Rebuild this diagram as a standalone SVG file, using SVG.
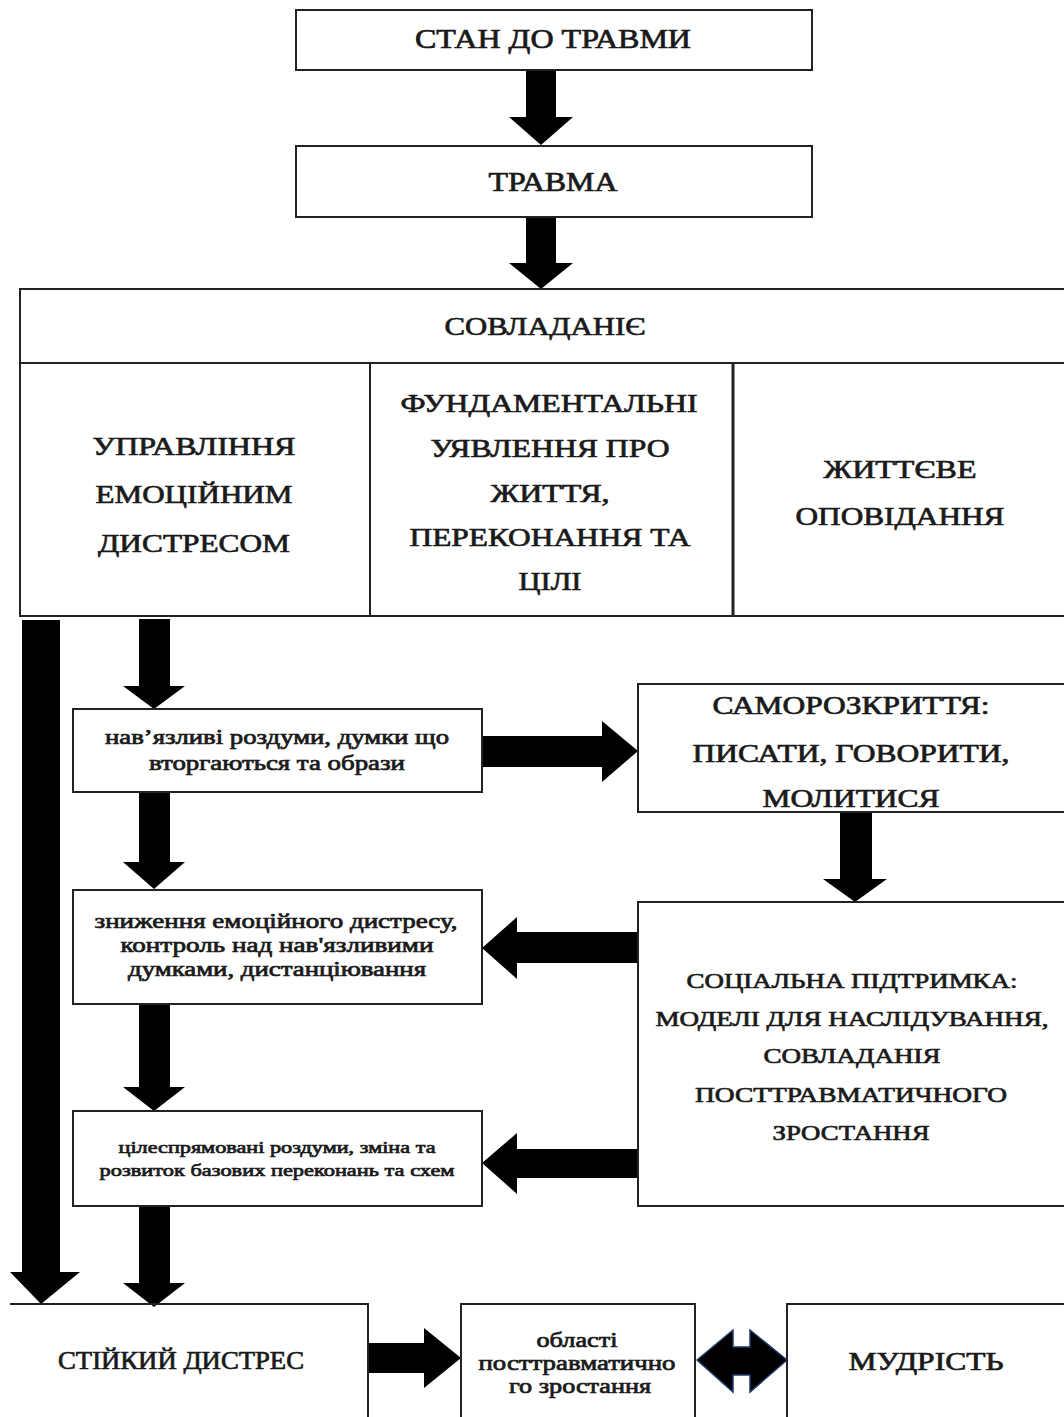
<svg xmlns="http://www.w3.org/2000/svg" width="1064" height="1417" viewBox="0 0 1064 1417">
<style>
.b{fill:#fff;stroke:#222;stroke-width:2}
.l{fill:none;stroke:#222;stroke-width:2}
.a{fill:#000}
.d{fill:#000;stroke:#1f3a6e;stroke-width:1.5}
text{font-family:"Liberation Serif","Times New Roman",serif;font-weight:normal;fill:#1a1a1a;stroke:#1a1a1a;stroke-width:0.7;text-anchor:middle}
.t26{font-size:27px}
.t25{font-size:26px}
.t24{font-size:25px}
.t21{font-size:22px}
.t19{font-size:20px}
.t16{font-size:17px}
</style>
<rect width="1064" height="1417" fill="#fff"/>
<g id="connectors">
<polygon class="a" points="526,68 556,68 556,117 573,117 541,145 509,117 526,117"/>
<polygon class="a" points="526,216 556,216 556,263 573,263 541,289 509,263 526,263"/>
<polygon class="a" points="22,620 60,620 60,1272 80,1272 41,1304 10,1272 22,1272"/>
<polygon class="a" points="139,619 170,619 170,686 185,686 154,709 123,686 139,686"/>
<polygon class="a" points="139,792 170,792 170,862 185,862 154,889 123,862 139,862"/>
<polygon class="a" points="139,1004 170,1004 170,1087 185,1087 154,1111 123,1087 139,1087"/>
<polygon class="a" points="139,1206 170,1206 170,1283 185,1283 154,1307 123,1283 139,1283"/>
<polygon class="a" points="483,736 602,736 602,721 638,751 602,782 602,767 483,767"/>
<polygon class="a" points="840,813 872,813 872,879 887,879 855,902 823,879 840,879"/>
<polygon class="a" points="638,932 517,932 517,917 482,948 517,979 517,963 638,963"/>
<polygon class="a" points="638,1149 517,1149 517,1133 482,1163 517,1194 517,1178 638,1178"/>
<polygon class="a" points="369,1343 424,1343 424,1328 461,1358 424,1388 424,1373 369,1373"/>
<polygon class="d" points="697,1360 733,1330 733,1347 750,1347 750,1330 787,1360 750,1392 750,1375 733,1375 733,1392"/>
</g>
<g id="n-stan">
<rect class="b" x="296" y="10" width="516" height="60"/>
<text class="t26" x="553" y="48" textLength="276" lengthAdjust="spacingAndGlyphs">СТАН ДО ТРАВМИ</text>
</g>
<g id="n-travma">
<rect class="b" x="296" y="146" width="516" height="71"/>
<text class="t26" x="553" y="191" textLength="129" lengthAdjust="spacingAndGlyphs">ТРАВМА</text>
</g>
<g id="n-sovladanie">
<rect class="b" x="20" y="289" width="1060" height="327"/>
<line class="l" x1="20" y1="363" x2="1080" y2="363"/>
<line class="l" x1="370" y1="363" x2="370" y2="616"/>
<line class="l" x1="733" y1="363" x2="733" y2="616" style="stroke-width:3"/>
<text class="t25" x="545" y="335" textLength="201" lengthAdjust="spacingAndGlyphs">СОВЛАДАНІЄ</text>
</g>
<g id="n-upravlinnia">
<text class="t25" x="194" y="455" textLength="203" lengthAdjust="spacingAndGlyphs">УПРАВЛІННЯ</text>
<text class="t25" x="194" y="503" textLength="197" lengthAdjust="spacingAndGlyphs">ЕМОЦІЙНИМ</text>
<text class="t25" x="194" y="552" textLength="192" lengthAdjust="spacingAndGlyphs">ДИСТРЕСОМ</text>
</g>
<g id="n-fundamentalni">
<text class="t25" x="549" y="412" textLength="297" lengthAdjust="spacingAndGlyphs">ФУНДАМЕНТАЛЬНІ</text>
<text class="t25" x="550" y="457" textLength="239" lengthAdjust="spacingAndGlyphs">УЯВЛЕННЯ ПРО</text>
<text class="t25" x="550" y="502" textLength="119" lengthAdjust="spacingAndGlyphs">ЖИТТЯ,</text>
<text class="t25" x="550" y="546" textLength="281" lengthAdjust="spacingAndGlyphs">ПЕРЕКОНАННЯ ТА</text>
<text class="t25" x="550" y="590" textLength="63" lengthAdjust="spacingAndGlyphs">ЦІЛІ</text>
</g>
<g id="n-zhyttieve">
<text class="t25" x="900" y="478" textLength="153" lengthAdjust="spacingAndGlyphs">ЖИТТЄВЕ</text>
<text class="t25" x="900" y="525" textLength="209" lengthAdjust="spacingAndGlyphs">ОПОВІДАННЯ</text>
</g>
<g id="n-naviazlyvi">
<rect class="b" x="73" y="709" width="409" height="83"/>
<text class="t19" x="277" y="744" textLength="344" lengthAdjust="spacingAndGlyphs">нав’язливі роздуми, думки що</text>
<text class="t19" x="277" y="770" textLength="256" lengthAdjust="spacingAndGlyphs">вторгаються та образи</text>
</g>
<g id="n-samorozkryttia">
<rect class="b" x="638" y="684" width="440" height="128"/>
<text class="t24" x="851" y="714" textLength="277" lengthAdjust="spacingAndGlyphs">САМОРОЗКРИТТЯ:</text>
<text class="t24" x="851" y="762" textLength="317" lengthAdjust="spacingAndGlyphs">ПИСАТИ, ГОВОРИТИ,</text>
<text class="t24" x="851" y="807" textLength="177" lengthAdjust="spacingAndGlyphs">МОЛИТИСЯ</text>
</g>
<g id="n-znyzhennia">
<rect class="b" x="73" y="890" width="409" height="114"/>
<text class="t19" x="276" y="928" textLength="363" lengthAdjust="spacingAndGlyphs">зниження емоційного дистресу,</text>
<text class="t19" x="277" y="952" textLength="313" lengthAdjust="spacingAndGlyphs">контроль над нав'язливими</text>
<text class="t19" x="277" y="976" textLength="298" lengthAdjust="spacingAndGlyphs">думками, дистанціювання</text>
</g>
<g id="n-sotsialna">
<rect class="b" x="638" y="902" width="440" height="304"/>
<text class="t21" x="852" y="988" textLength="331" lengthAdjust="spacingAndGlyphs">СОЦІАЛЬНА ПІДТРИМКА:</text>
<text class="t21" x="852" y="1026" textLength="393" lengthAdjust="spacingAndGlyphs">МОДЕЛІ ДЛЯ НАСЛІДУВАННЯ,</text>
<text class="t21" x="852" y="1063" textLength="177" lengthAdjust="spacingAndGlyphs">СОВЛАДАНІЯ</text>
<text class="t21" x="851" y="1102" textLength="312" lengthAdjust="spacingAndGlyphs">ПОСТТРАВМАТИЧНОГО</text>
<text class="t21" x="851" y="1140" textLength="157" lengthAdjust="spacingAndGlyphs">ЗРОСТАННЯ</text>
</g>
<g id="n-tsilespriamovani">
<rect class="b" x="73" y="1111" width="409" height="95"/>
<text class="t16" x="277" y="1153" textLength="317" lengthAdjust="spacingAndGlyphs">цілеспрямовані роздуми, зміна та</text>
<text class="t16" x="277" y="1176" textLength="355" lengthAdjust="spacingAndGlyphs">розвиток базових переконань та схем</text>
</g>
<g id="n-stiikyi">
<path class="l" d="M10 1304 H368 V1420"/>
<text class="t24" x="181" y="1369" textLength="246" lengthAdjust="spacingAndGlyphs">СТІЙКИЙ ДИСТРЕС</text>
</g>
<g id="n-oblasti">
<rect class="b" x="461" y="1304" width="234" height="130"/>
<text class="t19" x="577" y="1347" textLength="81" lengthAdjust="spacingAndGlyphs">області</text>
<text class="t19" x="577" y="1370" textLength="197" lengthAdjust="spacingAndGlyphs">посттравматично</text>
<text class="t19" x="580" y="1393" textLength="142" lengthAdjust="spacingAndGlyphs">го зростання</text>
</g>
<g id="n-mudrist">
<rect class="b" x="787" y="1304" width="300" height="130"/>
<text class="t24" x="926" y="1370" textLength="155" lengthAdjust="spacingAndGlyphs">МУДРІСТЬ</text>
</g>
</svg>
